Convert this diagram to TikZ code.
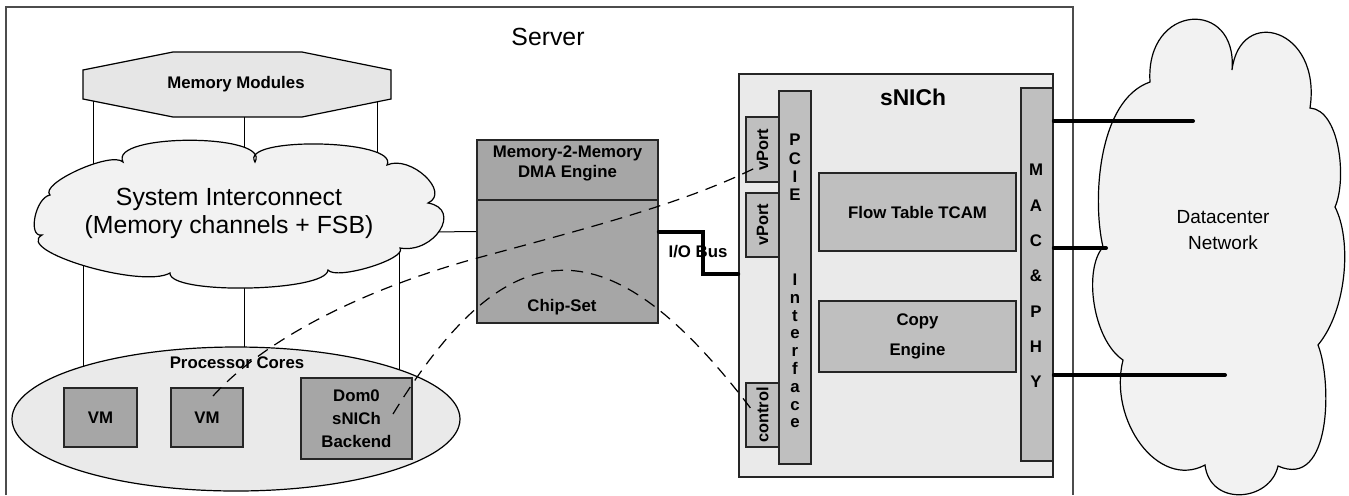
\documentclass[tikz,border=0pt]{standalone}
\usepackage{fontspec}
\setmainfont{Liberation Sans}
\usetikzlibrary{shapes.geometric}

\definecolor{cloudfill}{HTML}{F2F2F2}
\definecolor{panelfill}{HTML}{EAEAEA}
\definecolor{octfill}{HTML}{E6E6E6}
\definecolor{boxdark}{HTML}{A6A6A6}
\definecolor{boxlight}{HTML}{BFBFBF}

\newcommand\lblfont{\fontsize{8.4}{10}\selectfont\bfseries}

\tikzset{
  thinline/.style={draw=black, line width=0.5pt},
  outline/.style={draw=black, line width=0.6pt},
  darkbox/.style={draw=black!85, line width=0.8pt, fill=boxdark, inner sep=0pt, align=center, font=\lblfont},
  lightbox/.style={draw=black!85, line width=0.8pt, fill=boxlight, inner sep=0pt, align=center, font=\lblfont},
  lbl/.style={inner sep=0pt, align=center, font=\lblfont},
  bus/.style={line width=2pt, line cap=round},
  link/.style={dash pattern=on 6pt off 4pt, line width=0.6pt},
}

\begin{document}
\begin{tikzpicture}[x=0.5pt, y=-0.5pt]
\useasboundingbox (0,0) rectangle (1349,495);

% server enclosure
\draw[draw=black!70, line width=0.6pt] (6,495) -- (6,7) -- (1073,7) -- (1073,495);
\node[font=\fontsize{12.4}{14}\selectfont] (server) at (548,37) {Server};

% memory modules
\draw[outline, fill=octfill] (173,52) -- (302,52) -- (391,70) -- (391,99) -- (302,117)
  -- (173,117) -- (83,99) -- (83,70) -- cycle;
\node[lbl] (mem) at (236,84) {Memory Modules};

% channels behind the interconnect cloud
\coordinate (chA) at (93,101);  \coordinate (chA2) at (93,200);
\coordinate (chB) at (244,117); \coordinate (chB2) at (244,400);
\coordinate (chC) at (377,102); \coordinate (chC2) at (377,200);
\coordinate (chD) at (83,240);  \coordinate (chD2) at (83,400);
\coordinate (chE) at (399,240); \coordinate (chE2) at (399,400);
\draw[thinline] (chA) -- (chA2);
\draw[thinline] (chB) -- (chB2);
\draw[thinline] (chC) -- (chC2);
\draw[thinline] (chD) -- (chD2);
\draw[thinline] (chE) -- (chE2);

% chip-set (needed for the interconnect link)
\node[darkbox, minimum width=90.5pt, minimum height=91.5pt] (chip) at (567.5,231.5) {};
\coordinate (icR) at (430,232);
\draw[thinline] (icR) -- (chip.west);

% system interconnect cloud
\draw[outline, fill=cloudfill]
  (255,162) .. controls (238,136) and (400,139) .. (387,165)
  .. controls (410.3,154.3) and (451.3,192.3) .. (428,203)
  .. controls (462.7,209) and (434.7,254) .. (400,248)
  .. controls (408,258.7) and (336,280.7) .. (328,270)
  .. controls (326.7,292) and (168.7,295) .. (170,273)
  .. controls (142,289) and (14,251) .. (42,235)
  .. controls (27.3,237.7) and (35.3,197.7) .. (50,195)
  .. controls (38.7,183.7) and (111.7,150.7) .. (123,162)
  .. controls (108,133) and (272,133) .. cycle;
\node[align=center, font=\fontsize{12.4}{14}\selectfont] (ic) at (229,213)
  {System Interconnect\\(Memory channels + FSB)};

% processor cores
\node[ellipse, outline, fill=panelfill, minimum width=224pt, minimum height=72pt, inner sep=0pt]
  (cores) at (236,419) {};
\node[lbl] (coreslbl) at (237,363) {Processor Cores};
\node[darkbox, minimum width=36.5pt, minimum height=29.5pt] (vm1) at (100.5,417.5) {VM};
\node[darkbox, minimum width=36pt, minimum height=29.5pt] (vm2) at (207,417.5) {VM};
\node[darkbox, minimum width=55.5pt, minimum height=40.5pt, font=\fontsize{8.4}{11.5}\selectfont\bfseries]
  (dom0) at (356.5,418.5) {Dom0\\sNICh\\Backend};

% DMA engine on top of the chip-set
\node[darkbox, minimum width=90.5pt, minimum height=30pt] (dma) at (567.5,170) {};
\node[lbl] (dmalbl) at (567.5,163) {Memory-2-Memory\\DMA Engine};
\node[lbl] (chiplbl) at (562,307) {Chip-Set};

% datacenter network cloud
\draw[outline, fill=cloudfill]
  (1150,82) .. controls (1145,3) and (1238,-2) .. (1232,70)
  .. controls (1240,5) and (1322,28) .. (1310,108)
  .. controls (1340,110) and (1347,180) .. (1335,207)
  .. controls (1352,240) and (1347,310) .. (1318,345)
  .. controls (1332,380) and (1332,490) .. (1278,466)
  .. controls (1270,502) and (1210,507) .. (1205,465)
  .. controls (1158,490) and (1108,420) .. (1123,360)
  .. controls (1093,340) and (1083,270) .. (1103,247)
  .. controls (1092,200) and (1098,100) .. cycle;
\node[align=center, font=\fontsize{9.5}{13}\selectfont] (dcn) at (1223,230) {Datacenter\\Network};

% sNICh card
\node[draw=black!85, line width=0.8pt, fill=panelfill, minimum width=157pt, minimum height=201.5pt, inner sep=0pt]
  (snich) at (896,275.5) {};
\node[inner sep=0pt, font=\fontsize{11.4}{13}\selectfont\bfseries] (snichlbl) at (913,97) {sNICh};
\node[lightbox, minimum width=16.5pt, minimum height=32.5pt] (vp1) at (762.5,149.5) {};
\node[lightbox, minimum width=16.5pt, minimum height=32pt] (vp2) at (762.5,225) {};
\node[lightbox, minimum width=16.5pt, minimum height=32pt] (ctl) at (762.5,415) {};
\node[lbl, rotate=90, font=\fontsize{8.2}{10}\selectfont\bfseries] at (vp1) {vPort};
\node[lbl, rotate=90, font=\fontsize{8.2}{10}\selectfont\bfseries] at (vp2) {vPort};
\node[lbl, rotate=90, font=\fontsize{8.2}{10}\selectfont\bfseries] at (ctl) {control};
\node[lightbox, minimum width=16pt, minimum height=186.5pt] (pcie) at (795,277.5) {};
\node[lbl, font=\fontsize{8.4}{9.17}\selectfont\bfseries] (pcielbl) at (795,167.5) {P\\C\\I\\E};
\node[lbl, font=\fontsize{8.4}{8.9}\selectfont\bfseries] (iflbl) at (795,351) {I\\n\\t\\e\\r\\f\\a\\c\\e};
\node[lightbox, minimum width=98.5pt, minimum height=39pt] (flow) at (917.5,212) {Flow Table TCAM};
\node[lightbox, minimum width=98.5pt, minimum height=35.5pt, font=\fontsize{8.4}{15}\selectfont\bfseries]
  (copy) at (917.5,336.5) {Copy\\Engine};
\node[lightbox, minimum width=16pt, minimum height=186.5pt] (mac) at (1037,274.5) {};
\node[lbl, font=\fontsize{8.4}{17.65}\selectfont\bfseries] (maclbl) at (1036,276) {M\\A\\C\\\&\\P\\H\\Y};

% I/O bus
\coordinate (iob) at (703,274);
\draw[bus] (chip.east) -| (iob) -- (snich.west |- iob);
\node[lbl] (ioblbl) at (698,252) {I/O Bus};

% network links
\coordinate (net1) at (1193,121);
\coordinate (net2) at (1106,248);
\coordinate (net3) at (1225,375);
\draw[bus] (mac.east |- net1) -- (net1);
\draw[bus] (mac.east |- net2) -- (net2);
\draw[bus] (mac.east |- net3) -- (net3);

% logical paths through the chip-set
\coordinate (vmtap) at (213,396);
\coordinate (vptap) at (755,168);
\coordinate (d0tap) at (393,414);
\coordinate (cttap) at (752,410);
\draw[link] (vmtap) .. controls (250,355) and (330,300) .. (470,260)
  .. controls (580,230) and (680,205) .. (vptap);
\draw[link] (d0tap) .. controls (510,223) and (610,223) .. (cttap);
\end{tikzpicture}
\end{document}
